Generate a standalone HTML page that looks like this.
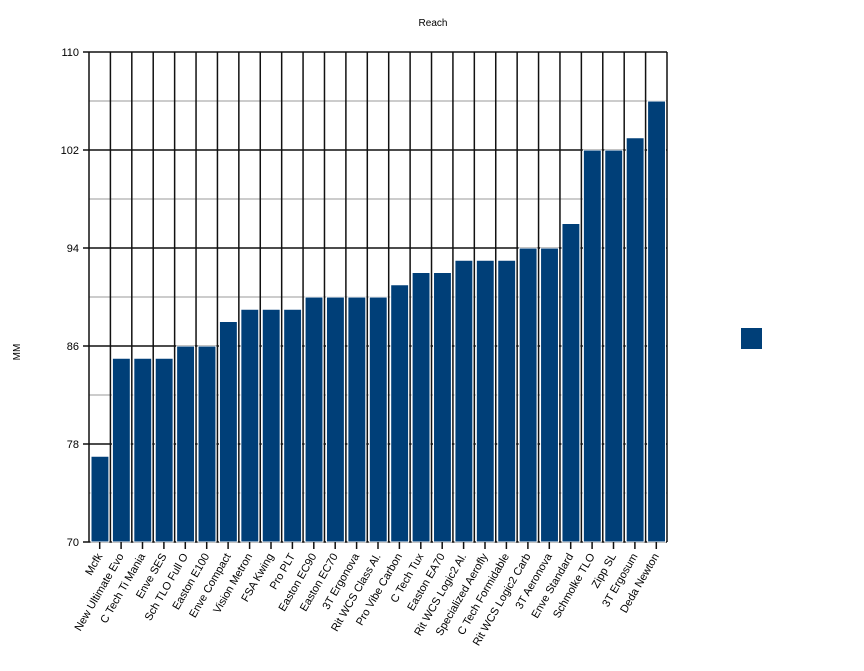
<!DOCTYPE html>
<html><head><style>body{margin:0;background:#fff}</style></head><body>
<svg width="864" height="666" xmlns="http://www.w3.org/2000/svg" font-family="Liberation Sans, Arial, sans-serif" font-size="11">
<rect width="864" height="666" fill="#fff"/>
<text x="433" y="26" text-anchor="middle" font-size="10">Reach</text>
<text transform="translate(20,352) rotate(-90)" text-anchor="middle" font-size="10">MM</text>
<rect x="741" y="328" width="21" height="21" fill="#003f78"/>
<g stroke="#bbb" stroke-width="1.5">
<line x1="89" x2="667" y1="493" y2="493"/><line x1="89" x2="667" y1="395" y2="395"/><line x1="89" x2="667" y1="297" y2="297"/><line x1="89" x2="667" y1="199" y2="199"/><line x1="89" x2="667" y1="101" y2="101"/>
</g>
<g stroke="#111" stroke-width="1.5">
<line x1="83" x2="667" y1="542" y2="542"/><line x1="83" x2="667" y1="444" y2="444"/><line x1="83" x2="667" y1="346" y2="346"/><line x1="83" x2="667" y1="248" y2="248"/><line x1="83" x2="667" y1="150" y2="150"/><line x1="83" x2="667" y1="52" y2="52"/>
<line x1="89" x2="89" y1="52" y2="542"/><line x1="110.41" x2="110.41" y1="52" y2="542"/><line x1="131.81" x2="131.81" y1="52" y2="542"/><line x1="153.22" x2="153.22" y1="52" y2="542"/><line x1="174.63" x2="174.63" y1="52" y2="542"/><line x1="196.04" x2="196.04" y1="52" y2="542"/><line x1="217.44" x2="217.44" y1="52" y2="542"/><line x1="238.85" x2="238.85" y1="52" y2="542"/><line x1="260.26" x2="260.26" y1="52" y2="542"/><line x1="281.67" x2="281.67" y1="52" y2="542"/><line x1="303.07" x2="303.07" y1="52" y2="542"/><line x1="324.48" x2="324.48" y1="52" y2="542"/><line x1="345.89" x2="345.89" y1="52" y2="542"/><line x1="367.3" x2="367.3" y1="52" y2="542"/><line x1="388.7" x2="388.7" y1="52" y2="542"/><line x1="410.11" x2="410.11" y1="52" y2="542"/><line x1="431.52" x2="431.52" y1="52" y2="542"/><line x1="452.93" x2="452.93" y1="52" y2="542"/><line x1="474.33" x2="474.33" y1="52" y2="542"/><line x1="495.74" x2="495.74" y1="52" y2="542"/><line x1="517.15" x2="517.15" y1="52" y2="542"/><line x1="538.56" x2="538.56" y1="52" y2="542"/><line x1="559.96" x2="559.96" y1="52" y2="542"/><line x1="581.37" x2="581.37" y1="52" y2="542"/><line x1="602.78" x2="602.78" y1="52" y2="542"/><line x1="624.19" x2="624.19" y1="52" y2="542"/><line x1="645.59" x2="645.59" y1="52" y2="542"/><line x1="667" x2="667" y1="52" y2="542"/>
</g>
<g text-anchor="end">
<text x="79" y="546">70</text><text x="79" y="448">78</text><text x="79" y="350">86</text><text x="79" y="252">94</text><text x="79" y="154">102</text><text x="79" y="56">110</text>
</g>
<g fill="#003f78" stroke="#fff" stroke-width="1">
<rect x="91" y="456.25" width="17.9" height="85.75"/>
<rect x="112.41" y="358.25" width="17.9" height="183.75"/>
<rect x="133.81" y="358.25" width="17.9" height="183.75"/>
<rect x="155.22" y="358.25" width="17.9" height="183.75"/>
<rect x="176.63" y="346" width="17.9" height="196"/>
<rect x="198.04" y="346" width="17.9" height="196"/>
<rect x="219.44" y="321.5" width="17.9" height="220.5"/>
<rect x="240.85" y="309.25" width="17.9" height="232.75"/>
<rect x="262.26" y="309.25" width="17.9" height="232.75"/>
<rect x="283.67" y="309.25" width="17.9" height="232.75"/>
<rect x="305.07" y="297" width="17.9" height="245"/>
<rect x="326.48" y="297" width="17.9" height="245"/>
<rect x="347.89" y="297" width="17.9" height="245"/>
<rect x="369.3" y="297" width="17.9" height="245"/>
<rect x="390.7" y="284.75" width="17.9" height="257.25"/>
<rect x="412.11" y="272.5" width="17.9" height="269.5"/>
<rect x="433.52" y="272.5" width="17.9" height="269.5"/>
<rect x="454.93" y="260.25" width="17.9" height="281.75"/>
<rect x="476.33" y="260.25" width="17.9" height="281.75"/>
<rect x="497.74" y="260.25" width="17.9" height="281.75"/>
<rect x="519.15" y="248" width="17.9" height="294"/>
<rect x="540.56" y="248" width="17.9" height="294"/>
<rect x="561.96" y="223.5" width="17.9" height="318.5"/>
<rect x="583.37" y="150" width="17.9" height="392"/>
<rect x="604.78" y="150" width="17.9" height="392"/>
<rect x="626.19" y="137.75" width="17.9" height="404.25"/>
<rect x="647.59" y="101" width="17.9" height="441"/>
</g>
<g stroke="#111" stroke-width="1.5">
<line x1="99.7" x2="99.7" y1="542" y2="549"/><line x1="121.1" x2="121.1" y1="542" y2="549"/><line x1="142.5" x2="142.5" y1="542" y2="549"/><line x1="163.9" x2="163.9" y1="542" y2="549"/><line x1="185.3" x2="185.3" y1="542" y2="549"/><line x1="206.7" x2="206.7" y1="542" y2="549"/><line x1="228.1" x2="228.1" y1="542" y2="549"/><line x1="249.6" x2="249.6" y1="542" y2="549"/><line x1="271" x2="271" y1="542" y2="549"/><line x1="292.4" x2="292.4" y1="542" y2="549"/><line x1="313.8" x2="313.8" y1="542" y2="549"/><line x1="335.2" x2="335.2" y1="542" y2="549"/><line x1="356.6" x2="356.6" y1="542" y2="549"/><line x1="378" x2="378" y1="542" y2="549"/><line x1="399.4" x2="399.4" y1="542" y2="549"/><line x1="420.8" x2="420.8" y1="542" y2="549"/><line x1="442.2" x2="442.2" y1="542" y2="549"/><line x1="463.6" x2="463.6" y1="542" y2="549"/><line x1="485" x2="485" y1="542" y2="549"/><line x1="506.4" x2="506.4" y1="542" y2="549"/><line x1="527.9" x2="527.9" y1="542" y2="549"/><line x1="549.3" x2="549.3" y1="542" y2="549"/><line x1="570.7" x2="570.7" y1="542" y2="549"/><line x1="592.1" x2="592.1" y1="542" y2="549"/><line x1="613.5" x2="613.5" y1="542" y2="549"/><line x1="634.9" x2="634.9" y1="542" y2="549"/><line x1="656.3" x2="656.3" y1="542" y2="549"/>
</g>
<g text-anchor="end">
<text transform="translate(102.7,556) rotate(-60)">Mcfk</text>
<text transform="translate(124.1,556) rotate(-60)">New Ultimate Evo</text>
<text transform="translate(145.5,556) rotate(-60)">C Tech Ti Mania</text>
<text transform="translate(166.9,556) rotate(-60)">Enve SES</text>
<text transform="translate(188.3,556) rotate(-60)">Sch TLO Full O</text>
<text transform="translate(209.7,556) rotate(-60)">Easton E100</text>
<text transform="translate(231.1,556) rotate(-60)">Enve Compact</text>
<text transform="translate(252.6,556) rotate(-60)">Vision Metron</text>
<text transform="translate(274,556) rotate(-60)">FSA Kwing</text>
<text transform="translate(295.4,556) rotate(-60)">Pro PLT</text>
<text transform="translate(316.8,556) rotate(-60)">Easton EC90</text>
<text transform="translate(338.2,556) rotate(-60)">Easton EC70</text>
<text transform="translate(359.6,556) rotate(-60)">3T Ergonova</text>
<text transform="translate(381,556) rotate(-60)">Rit WCS Class Al.</text>
<text transform="translate(402.4,556) rotate(-60)">Pro Vibe Carbon</text>
<text transform="translate(423.8,556) rotate(-60)">C Tech Tux</text>
<text transform="translate(445.2,556) rotate(-60)">Easton EA70</text>
<text transform="translate(466.6,556) rotate(-60)">Rit WCS Logic2 Al.</text>
<text transform="translate(488,556) rotate(-60)">Specialized Aerofly</text>
<text transform="translate(509.4,556) rotate(-60)">C Tech Formidable</text>
<text transform="translate(530.9,556) rotate(-60)">Rit WCS Logic2 Carb</text>
<text transform="translate(552.3,556) rotate(-60)">3T Aeronova</text>
<text transform="translate(573.7,556) rotate(-60)">Enve Standard</text>
<text transform="translate(595.1,556) rotate(-60)">Schmolke TLO</text>
<text transform="translate(616.5,556) rotate(-60)">Zipp SL</text>
<text transform="translate(637.9,556) rotate(-60)">3T Ergosum</text>
<text transform="translate(659.3,556) rotate(-60)">Deda Newton</text>
</g>
</svg>
</body></html>
